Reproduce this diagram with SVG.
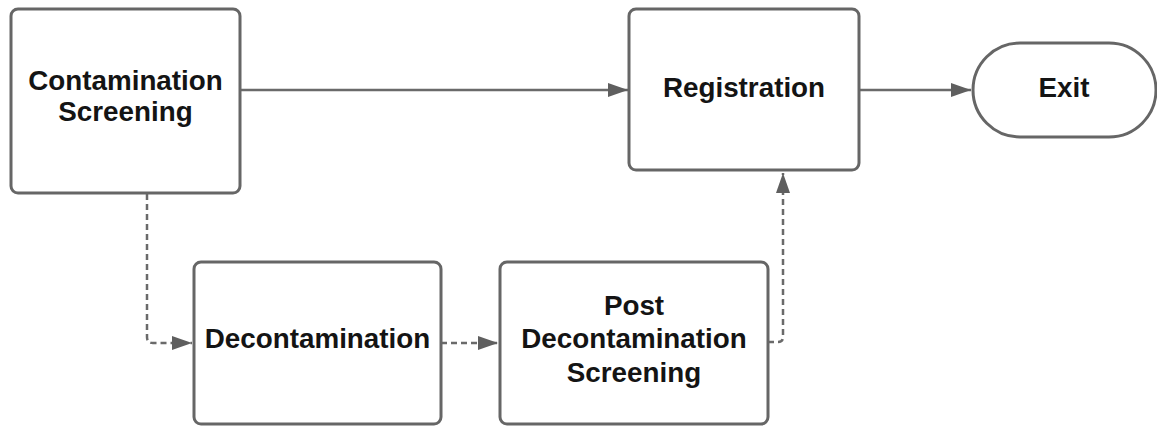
<svg xmlns="http://www.w3.org/2000/svg" width="1157" height="426" viewBox="0 0 1157 426">
<defs>
<style>
.box{fill:#fff;stroke:#666;stroke-width:3}
.lbl{font-family:"Liberation Sans",Arial,sans-serif;font-weight:bold;font-size:27.8px;fill:#141414;text-anchor:middle}
.c{fill:none;stroke:#6a6a6a;stroke-width:2.5}
.d{stroke-dasharray:6 4}
</style>
<marker id="ah" viewBox="0 0 20 14" refX="20" refY="7" markerWidth="20" markerHeight="14" markerUnits="userSpaceOnUse" orient="auto">
<path d="M0,0 L20,7 L0,14 Z" fill="#5f5f5f"/>
</marker>
</defs>
<rect width="1157" height="426" fill="#fff"/>
<g id="connectors">
<path class="c" d="M240,90 H628" marker-end="url(#ah)"/>
<path class="c" d="M859,90 H971" marker-end="url(#ah)"/>
<path class="c d" d="M147,194 V337 Q147,343 153,343 H192" marker-end="url(#ah)"/>
<path class="c d" d="M441,343 H498" marker-end="url(#ah)"/>
<path class="c d" d="M768,342 H778 Q783,342 783,337 V173" marker-end="url(#ah)"/>
</g>
<g id="contamination-screening">
<rect class="box" x="11" y="9" width="229" height="184" rx="7"/>
<text class="lbl" x="125.5" y="90">Contamination</text>
<text class="lbl" x="125.5" y="121">Screening</text>
</g>
<g id="registration">
<rect class="box" x="629" y="9" width="230" height="161" rx="7"/>
<text class="lbl" x="744" y="97">Registration</text>
</g>
<g id="exit">
<rect class="box" x="973" y="43" width="183" height="94" rx="47"/>
<text class="lbl" x="1064" y="97">Exit</text>
</g>
<g id="decontamination">
<rect class="box" x="194" y="262" width="247" height="162" rx="7"/>
<text class="lbl" x="317.5" y="348">Decontamination</text>
</g>
<g id="post-decontamination-screening">
<rect class="box" x="500" y="262" width="268" height="162" rx="7"/>
<text class="lbl" x="634" y="315">Post</text>
<text class="lbl" x="634" y="348">Decontamination</text>
<text class="lbl" x="634" y="382">Screening</text>
</g>
</svg>
